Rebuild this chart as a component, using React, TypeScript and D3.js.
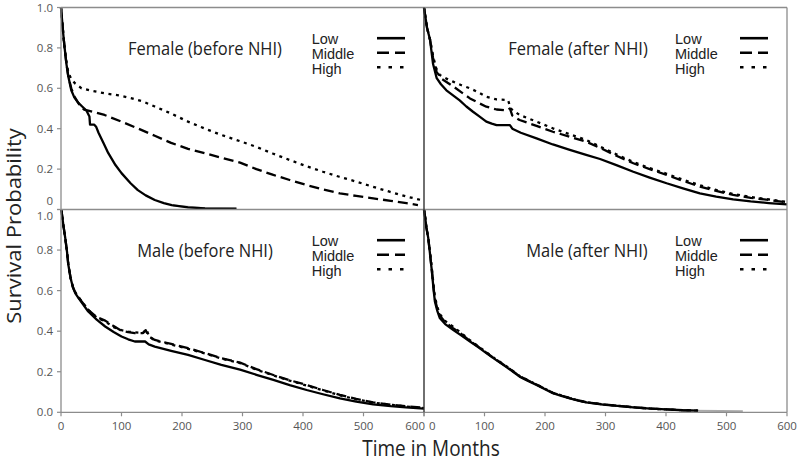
import React from "react";
import * as d3 from "d3";

type Pt = [number, number];

// months, survival probability
const femaleBeforeLow: Pt[] = [[0,1],[2,0.93],[4,0.86],[6,0.8],[9,0.72],[12,0.66],[17,0.59],[22,0.555],[28,0.53],[35,0.51],[42,0.49],[47,0.46],[48,0.42],[55,0.42],[58,0.41],[62,0.38],[70,0.33],[78,0.28],[90,0.22],[100,0.18],[115,0.13],[127,0.096],[140,0.07],[155,0.047],[170,0.032],[183,0.022],[210,0.011],[238,0.006],[290,0.004]];
const femaleBeforeMiddle: Pt[] = [[0,1],[2,0.93],[4,0.86],[6,0.8],[9,0.72],[12,0.66],[17,0.6],[22,0.56],[30,0.52],[38,0.495],[45,0.49],[72,0.468],[100,0.435],[128,0.4],[155,0.365],[182,0.33],[210,0.3],[238,0.278],[267,0.255],[296,0.232],[323,0.2],[351,0.171],[378,0.146],[406,0.121],[433,0.1],[461,0.08],[488,0.067],[516,0.055],[545,0.043],[571,0.031],[590,0.022]];
const femaleBeforeHigh: Pt[] = [[0,1],[2,0.93],[4,0.86],[6,0.8],[9,0.73],[12,0.68],[17,0.645],[23,0.625],[34,0.6],[50,0.588],[73,0.575],[95,0.565],[117,0.55],[135,0.535],[155,0.51],[182,0.475],[210,0.435],[238,0.4],[265,0.369],[296,0.338],[323,0.31],[350,0.277],[378,0.245],[405,0.215],[433,0.187],[460,0.162],[488,0.138],[515,0.113],[543,0.088],[570,0.065],[598,0.045]];

const femaleAfterLow: Pt[] = [[0,1],[2,0.96],[5,0.9],[10,0.84],[15,0.72],[21,0.65],[28,0.62],[37,0.59],[48,0.565],[59,0.54],[70,0.51],[81,0.484],[92,0.46],[103,0.435],[112,0.425],[120,0.418],[142,0.418],[146,0.4],[160,0.38],[186,0.352],[213,0.322],[241,0.295],[268,0.27],[291,0.25],[318,0.22],[346,0.187],[373,0.158],[401,0.13],[428,0.105],[456,0.08],[483,0.064],[511,0.05],[540,0.04],[570,0.032],[600,0.025]];
const femaleAfterMiddle: Pt[] = [[0,1],[2,0.96],[5,0.9],[10,0.84],[15,0.75],[21,0.68],[30,0.645],[48,0.61],[62,0.58],[76,0.55],[90,0.528],[103,0.509],[120,0.495],[137,0.49],[142,0.5],[146,0.465],[158,0.443],[186,0.414],[213,0.385],[241,0.36],[268,0.336],[291,0.305],[318,0.266],[346,0.229],[373,0.2],[401,0.171],[428,0.142],[456,0.113],[483,0.092],[511,0.072],[540,0.058],[570,0.047],[600,0.035]];
const femaleAfterHigh: Pt[] = [[0,1],[2,0.96],[5,0.9],[10,0.84],[15,0.76],[20,0.7],[26,0.666],[37,0.648],[48,0.633],[62,0.615],[76,0.6],[90,0.58],[103,0.558],[120,0.545],[139,0.542],[143,0.5],[158,0.468],[186,0.435],[213,0.402],[241,0.372],[268,0.344],[291,0.311],[318,0.273],[346,0.235],[373,0.205],[401,0.177],[428,0.148],[456,0.12],[483,0.097],[511,0.077],[540,0.062],[570,0.05],[600,0.037]];

const maleBeforeLow: Pt[] = [[0,1],[1,0.99],[4,0.92],[7,0.86],[10,0.79],[12,0.73],[16,0.66],[20,0.613],[24,0.585],[29,0.563],[37,0.53],[45,0.497],[59,0.457],[73,0.423],[87,0.396],[100,0.374],[111,0.36],[122,0.349],[139,0.349],[145,0.335],[155,0.324],[182,0.303],[210,0.283],[238,0.258],[265,0.234],[296,0.21],[323,0.185],[351,0.16],[378,0.134],[406,0.11],[433,0.089],[461,0.069],[488,0.053],[516,0.039],[545,0.03],[570,0.024],[600,0.018]];
const maleBeforeMiddle: Pt[] = [[0,1],[1,0.99],[4,0.92],[7,0.86],[10,0.79],[12,0.73],[16,0.66],[20,0.615],[24,0.588],[29,0.566],[37,0.535],[45,0.505],[59,0.47],[73,0.452],[87,0.425],[100,0.402],[111,0.395],[122,0.39],[135,0.39],[140,0.405],[145,0.375],[155,0.357],[182,0.337],[210,0.316],[238,0.292],[265,0.267],[296,0.245],[323,0.213],[351,0.184],[378,0.158],[406,0.135],[433,0.11],[461,0.086],[488,0.066],[516,0.049],[545,0.038],[570,0.03],[600,0.022]];
const maleBeforeHigh: Pt[] = [[0,1],[1,0.99],[4,0.92],[7,0.86],[10,0.79],[12,0.73],[16,0.66],[20,0.615],[24,0.59],[29,0.568],[37,0.537],[45,0.505],[59,0.467],[73,0.448],[87,0.42],[100,0.405],[111,0.398],[122,0.394],[136,0.392],[141,0.41],[146,0.372],[155,0.355],[182,0.334],[210,0.313],[238,0.29],[265,0.265],[296,0.243],[323,0.21],[351,0.182],[378,0.156],[406,0.132],[433,0.108],[461,0.084],[488,0.064],[516,0.048],[545,0.037],[570,0.029],[600,0.021]];

const maleAfterLow: Pt[] = [[0,1],[2,0.96],[4,0.91],[7,0.86],[10,0.78],[13,0.695],[16,0.6],[18,0.547],[22,0.5],[26,0.465],[35,0.435],[48,0.407],[62,0.378],[76,0.349],[90,0.32],[103,0.292],[117,0.262],[131,0.234],[145,0.205],[158,0.176],[172,0.155],[186,0.135],[200,0.114],[213,0.094],[227,0.081],[241,0.069],[255,0.058],[268,0.049],[296,0.038],[324,0.03],[350,0.023],[375,0.018],[401,0.014],[428,0.01],[453,0.008]];
const maleAfterMiddle: Pt[] = [[0,1],[2,0.96],[4,0.91],[7,0.86],[10,0.78],[13,0.7],[16,0.61],[18,0.56],[22,0.51],[26,0.478],[35,0.445],[48,0.415],[62,0.386],[76,0.352],[90,0.323],[103,0.294],[117,0.264],[131,0.236],[145,0.207],[158,0.178],[172,0.157],[186,0.137],[200,0.116],[213,0.096],[227,0.083],[241,0.07],[255,0.059],[268,0.05],[296,0.039],[324,0.031],[350,0.024],[375,0.018],[401,0.014],[428,0.01],[453,0.008]];
const maleAfterHigh: Pt[] = [[0,1],[2,0.96],[4,0.91],[7,0.86],[10,0.79],[13,0.71],[16,0.62],[18,0.57],[22,0.52],[26,0.485],[35,0.45],[48,0.422],[62,0.39],[76,0.355],[90,0.325],[103,0.296],[117,0.266],[131,0.238],[145,0.208],[158,0.179],[172,0.158],[186,0.137],[200,0.116],[213,0.096],[227,0.083],[241,0.07],[255,0.059],[268,0.05],[296,0.039],[324,0.031],[350,0.024],[375,0.018],[401,0.014],[428,0.01],[453,0.008]];
// faint grey tails where the last censored curve runs on
const femaleBeforeTail: Pt[] = [[185,0.02],[238,0.006],[290,0.004]];
const maleAfterTail: Pt[] = [[440,0.008],[490,0.006],[527,0.005]];

const seriesNames = ["Low", "Middle", "High"];
const dashes = ["none", "10,5", "3,4.6"];
const xTicks = [0, 100, 200, 300, 400, 500, 600];
const yTicks = [0, 0.2, 0.4, 0.6, 0.8, 1.0];

const panels = [
  { title: "Female (before NHI)", col: 0, row: 0, series: [femaleBeforeLow, femaleBeforeMiddle, femaleBeforeHigh], tail: femaleBeforeTail },
  { title: "Female (after NHI)", col: 1, row: 0, series: [femaleAfterLow, femaleAfterMiddle, femaleAfterHigh], tail: null },
  { title: "Male (before NHI)", col: 0, row: 1, series: [maleBeforeLow, maleBeforeMiddle, maleBeforeHigh], tail: null },
  { title: "Male (after NHI)", col: 1, row: 1, series: [maleAfterLow, maleAfterMiddle, maleAfterHigh], tail: maleAfterTail },
];

const colX = [61, 424, 787];
const rowY = [7.5, 209.5, 412.3];
const titleCx = [[205, 578], [205, 587]];
const gray = "#8c8c8c";
const tickFont = "'Open Sans', sans-serif";

export default function App() {
  const line = (xs: any, ys: any) =>
    d3.line<Pt>().x((d) => xs(d[0])).y((d) => ys(d[1]));

  return (
    <svg width={800} height={461} style={{ position: "absolute", left: 0, top: 0, background: "#fff" }}>
      <rect width={800} height={461} fill="#fff" />
      {panels.map((p, pi) => {
        const xs = d3.scaleLinear().domain([0, 600]).range([colX[p.col], colX[p.col + 1]]);
        const ys = d3.scaleLinear().domain([0, 1]).range([rowY[p.row + 1], rowY[p.row]]);
        const lg = line(xs, ys);
        const x0 = colX[p.col];
        const y0 = rowY[p.row];
        const legX = p.col === 0 ? 311.7 : 675;
        const legLine = p.col === 0 ? [377, 405] : [740, 768];
        return (
          <g key={pi}>
            {p.tail && (
              <path d={lg(p.tail) || ""} fill="none" stroke="#aaa" strokeWidth={2} />
            )}
            {p.series.map((s, si) => (
              <path key={si} d={lg(s) || ""} fill="none" stroke="#000" strokeWidth={2.3}
                strokeDasharray={dashes[si]} strokeLinejoin="round" />
            ))}
            <text transform={`translate(${titleCx[p.row][p.col]},${y0 + 47.5}) scale(1,1.1)`}
              textAnchor="middle" fontFamily="'Open Sans', sans-serif" fontSize={16.5} fill="#222">
              {p.title}
            </text>
            {seriesNames.map((n, si) => (
              <g key={n}>
                <text x={legX} y={y0 + 36.8 + si * 14.6} fontFamily="'Liberation Sans', Arial, sans-serif"
                  fontSize={14.5} fill="#222">{n}</text>
                <line x1={legLine[0]} x2={legLine[1]} y1={y0 + 30.7 + si * 14.5} y2={y0 + 30.7 + si * 14.5}
                  stroke="#000" strokeWidth={2.6} strokeDasharray={si === 0 ? "none" : si === 1 ? "12,6" : "3.5,8"} />
              </g>
            ))}
            {p.col === 0 && yTicks.map((t) => {
              let dy = 4;
              if (p.row === 0 && t === 0) dy = -4.5;
              if (p.row === 1 && t === 1) dy = 10;
              return (
                <g key={t}>
                  <line x1={x0 - 4} x2={x0} y1={ys(t)} y2={ys(t)} stroke={gray} strokeWidth={1.2} />
                  <text x={x0 - 8} y={ys(t) + dy} textAnchor="end" fontFamily={tickFont} fontSize={11.5} fill="#555">
                    {p.row === 0 && t === 0 ? "0" : d3.format(".1f")(t)}
                  </text>
                </g>
              );
            })}
            {p.row === 1 && xTicks.map((t) => {
              let anchor = "middle";
              let dx = 0;
              if (p.col === 0 && t === 600) { anchor = "end"; dx = 1; }
              if (p.col === 1 && t === 0) { anchor = "start"; dx = 5; }
              return (
                <g key={t}>
                  <line x1={xs(t)} x2={xs(t)} y1={rowY[2]} y2={rowY[2] + 4} stroke={gray} strokeWidth={1.2} />
                  <text x={xs(t) + dx} y={rowY[2] + 17.5} textAnchor={anchor} fontFamily={tickFont} fontSize={11.5} fill="#555">
                    {t}
                  </text>
                </g>
              );
            })}
          </g>
        );
      })}
      {/* frame */}
      <line x1={colX[0]} x2={colX[2]} y1={rowY[0]} y2={rowY[0]} stroke={gray} strokeWidth={1.3} />
      <line x1={colX[0]} x2={colX[2]} y1={rowY[1]} y2={rowY[1]} stroke={gray} strokeWidth={1.3} />
      <line x1={colX[0]} x2={colX[2]} y1={rowY[2]} y2={rowY[2]} stroke={gray} strokeWidth={1.3} />
      <line x1={colX[0]} x2={colX[0]} y1={rowY[0]} y2={rowY[2]} stroke={gray} strokeWidth={1.3} />
      <line x1={colX[2]} x2={colX[2]} y1={rowY[0]} y2={rowY[2]} stroke={gray} strokeWidth={1.3} />
      <line x1={colX[1]} x2={colX[1]} y1={rowY[0]} y2={rowY[2]} stroke="#333" strokeWidth={1.4} />
      <text transform={`translate(21,226) rotate(-90) scale(1.1,1)`} textAnchor="middle"
        fontFamily="'Open Sans', sans-serif" fontSize={20} fill="#222">Survival Probability</text>
      <text transform={`translate(431,455.5) scale(1,1.1)`} textAnchor="middle"
        fontFamily="'Open Sans', sans-serif" fontSize={19} fill="#222">Time in Months</text>
    </svg>
  );
}
